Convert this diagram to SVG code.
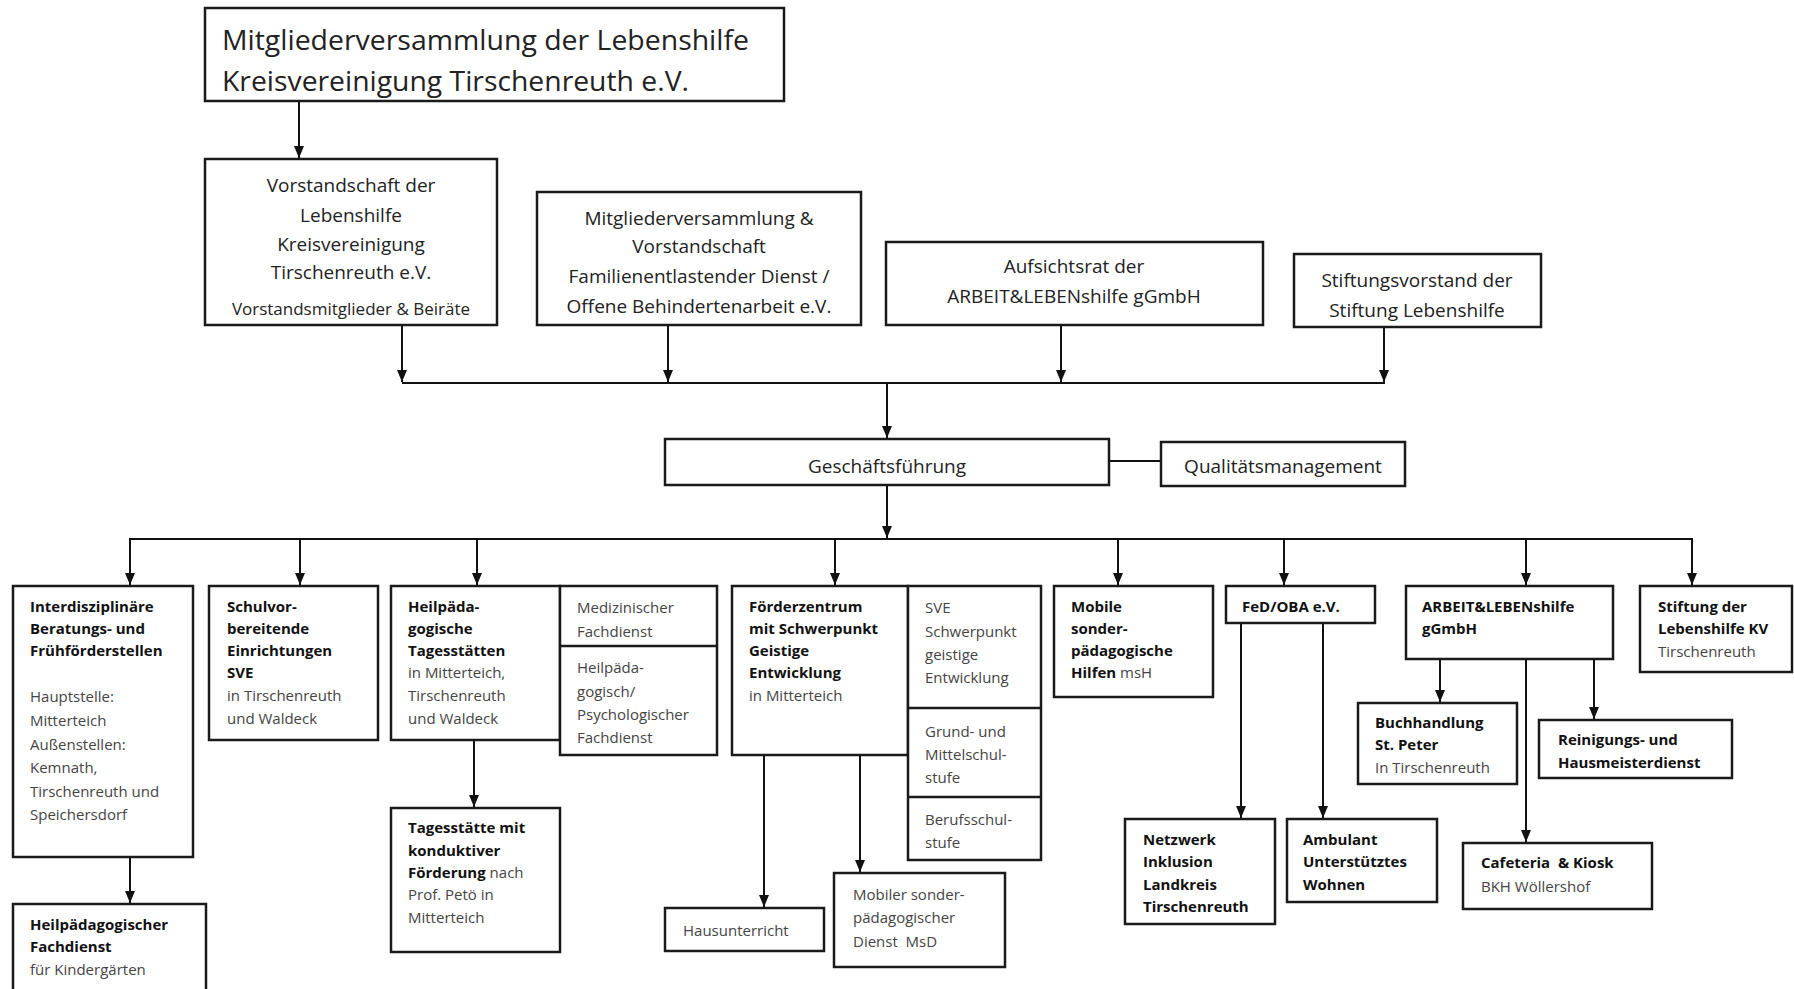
<svg xmlns="http://www.w3.org/2000/svg" width="1794" height="989" viewBox="0 0 1794 989">
<style>
.box{fill:#fff;stroke:#1a1a1a;stroke-width:2.5}
.conn{stroke:#111;stroke-width:2;fill:none}
.t{font-family:'Open Sans','Noto Sans','DejaVu Sans',sans-serif;fill:#222}
.u{font-size:19px}
.s{font-size:15px}
.b{font-weight:bold;fill:#111}
.r{fill:#444}
.c{text-anchor:middle}
</style>
<defs>
<marker id="ah" viewBox="0 0 12 10" refX="12" refY="5" markerWidth="12" markerHeight="10" markerUnits="userSpaceOnUse" orient="auto">
<path d="M0,0 L12,5 L0,10 z" fill="#111"/>
</marker>
</defs>
<rect width="1794" height="989" fill="#fff"/>

<g id="connectors" class="conn">
<path d="M299,101 V158" marker-end="url(#ah)"/>
<path d="M402,325 V382" marker-end="url(#ah)"/>
<path d="M668,325 V382" marker-end="url(#ah)"/>
<path d="M1061,325 V382" marker-end="url(#ah)"/>
<path d="M1384,327 V382" marker-end="url(#ah)"/>
<path d="M402,383 H1385"/>
<path d="M887,383 V438" marker-end="url(#ah)"/>
<path d="M1109,461 H1161"/>
<path d="M887,486 V538" marker-end="url(#ah)"/>
<path d="M129,539 H1693"/>
<path d="M130,539 V585" marker-end="url(#ah)"/>
<path d="M300,539 V585" marker-end="url(#ah)"/>
<path d="M477,539 V585" marker-end="url(#ah)"/>
<path d="M835,539 V585" marker-end="url(#ah)"/>
<path d="M1118,539 V585" marker-end="url(#ah)"/>
<path d="M1284,539 V585" marker-end="url(#ah)"/>
<path d="M1526,539 V585" marker-end="url(#ah)"/>
<path d="M1692,539 V585" marker-end="url(#ah)"/>
<path d="M130,857 V903" marker-end="url(#ah)"/>
<path d="M474,740 V807" marker-end="url(#ah)"/>
<path d="M764,755 V907" marker-end="url(#ah)"/>
<path d="M860,755 V872" marker-end="url(#ah)"/>
<path d="M1241,623 V818" marker-end="url(#ah)"/>
<path d="M1323,623 V818" marker-end="url(#ah)"/>
<path d="M1440,659 V702" marker-end="url(#ah)"/>
<path d="M1526,659 V842" marker-end="url(#ah)"/>
<path d="M1594,659 V719" marker-end="url(#ah)"/>
</g>

<g id="mv">
<rect class="box" x="205" y="8" width="579" height="93"/>
<text class="t" x="222" y="50" font-size="27" textLength="527" lengthAdjust="spacingAndGlyphs">Mitgliederversammlung der Lebenshilfe</text>
<text class="t" x="222" y="91" font-size="27" textLength="467" lengthAdjust="spacingAndGlyphs">Kreisvereinigung Tirschenreuth e.V.</text>
</g>

<g id="vorstand">
<rect class="box" x="205" y="159" width="292" height="166"/>
<text class="t u c" x="351" y="192">Vorstandschaft der</text>
<text class="t u c" x="351" y="222">Lebenshilfe</text>
<text class="t u c" x="351" y="251">Kreisvereinigung</text>
<text class="t u c" x="351" y="279">Tirschenreuth e.V.</text>
<text class="t c" x="351" y="315" font-size="17">Vorstandsmitglieder &amp; Beiräte</text>
</g>

<g id="fed-vorstand">
<rect class="box" x="537" y="192" width="324" height="133"/>
<text class="t u c" x="699" y="225">Mitgliederversammlung &amp;</text>
<text class="t u c" x="699" y="253">Vorstandschaft</text>
<text class="t u c" x="699" y="283">Familienentlastender Dienst /</text>
<text class="t u c" x="699" y="313">Offene Behindertenarbeit e.V.</text>
</g>

<g id="aufsichtsrat">
<rect class="box" x="886" y="242" width="377" height="83"/>
<text class="t u c" x="1074" y="273">Aufsichtsrat der</text>
<text class="t u c" x="1074" y="303">ARBEIT&amp;LEBENshilfe gGmbH</text>
</g>

<g id="stiftungsvorstand">
<rect class="box" x="1294" y="254" width="247" height="73"/>
<text class="t u c" x="1417" y="287">Stiftungsvorstand der</text>
<text class="t u c" x="1417" y="317">Stiftung Lebenshilfe</text>
</g>

<g id="gf">
<rect class="box" x="665" y="439" width="444" height="46"/>
<text class="t u c" x="887" y="473">Geschäftsführung</text>
</g>

<g id="qm">
<rect class="box" x="1161" y="442" width="244" height="44"/>
<text class="t u c" x="1283" y="473">Qualitätsmanagement</text>
</g>

<g id="interdisziplinaer">
<rect class="box" x="13" y="586" width="180" height="271"/>
<text class="t s b" x="30" y="612">Interdisziplinäre</text>
<text class="t s b" x="30" y="634">Beratungs- und</text>
<text class="t s b" x="30" y="656">Frühförderstellen</text>
<text class="t s r" x="30" y="702">Hauptstelle:</text>
<text class="t s r" x="30" y="726">Mitterteich</text>
<text class="t s r" x="30" y="750">Außenstellen:</text>
<text class="t s r" x="30" y="773">Kemnath,</text>
<text class="t s r" x="30" y="797">Tirschenreuth und</text>
<text class="t s r" x="30" y="820">Speichersdorf</text>
</g>

<g id="hp-fachdienst">
<rect class="box" x="13" y="904" width="193" height="100"/>
<text class="t s b" x="30" y="930">Heilpädagogischer</text>
<text class="t s b" x="30" y="952">Fachdienst</text>
<text class="t s r" x="30" y="975">für Kindergärten</text>
</g>

<g id="schulvor">
<rect class="box" x="209" y="586" width="169" height="154"/>
<text class="t s b" x="227" y="612">Schulvor-</text>
<text class="t s b" x="227" y="634">bereitende</text>
<text class="t s b" x="227" y="656">Einrichtungen</text>
<text class="t s b" x="227" y="678">SVE</text>
<text class="t s r" x="227" y="701">in Tirschenreuth</text>
<text class="t s r" x="227" y="724">und Waldeck</text>
</g>

<g id="hpt">
<rect class="box" x="391" y="586" width="169" height="154"/>
<text class="t s b" x="408" y="612">Heilpäda-</text>
<text class="t s b" x="408" y="634">gogische</text>
<text class="t s b" x="408" y="656">Tagesstätten</text>
<text class="t s r" x="408" y="678">in Mitterteich,</text>
<text class="t s r" x="408" y="701">Tirschenreuth</text>
<text class="t s r" x="408" y="724">und Waldeck</text>
</g>

<g id="med">
<rect class="box" x="560" y="586" width="157" height="169"/>
<line x1="560" y1="646" x2="717" y2="646" stroke="#1a1a1a" stroke-width="2.5"/>
<text class="t s r" x="577" y="613">Medizinischer</text>
<text class="t s r" x="577" y="637">Fachdienst</text>
<text class="t s r" x="577" y="673">Heilpäda-</text>
<text class="t s r" x="577" y="697">gogisch/</text>
<text class="t s r" x="577" y="720">Psychologischer</text>
<text class="t s r" x="577" y="743">Fachdienst</text>
</g>

<g id="tagesstaette">
<rect class="box" x="391" y="808" width="169" height="144"/>
<text class="t s b" x="408" y="833">Tagesstätte mit</text>
<text class="t s b" x="408" y="856">konduktiver</text>
<text class="t s" x="408" y="878"><tspan class="b">Förderung</tspan><tspan class="r"> nach</tspan></text>
<text class="t s r" x="408" y="900">Prof. Petö in</text>
<text class="t s r" x="408" y="923">Mitterteich</text>
</g>

<g id="foerderzentrum">
<rect class="box" x="732" y="586" width="176" height="169"/>
<text class="t s b" x="749" y="612">Förderzentrum</text>
<text class="t s b" x="749" y="634">mit Schwerpunkt</text>
<text class="t s b" x="749" y="656">Geistige</text>
<text class="t s b" x="749" y="678">Entwicklung</text>
<text class="t s r" x="749" y="701">in Mitterteich</text>
</g>

<g id="sve">
<rect class="box" x="908" y="586" width="133" height="274"/>
<line x1="908" y1="708" x2="1041" y2="708" stroke="#1a1a1a" stroke-width="2.5"/>
<line x1="908" y1="797" x2="1041" y2="797" stroke="#1a1a1a" stroke-width="2.5"/>
<text class="t s r" x="925" y="613">SVE</text>
<text class="t s r" x="925" y="637">Schwerpunkt</text>
<text class="t s r" x="925" y="660">geistige</text>
<text class="t s r" x="925" y="683">Entwicklung</text>
<text class="t s r" x="925" y="737">Grund- und</text>
<text class="t s r" x="925" y="760">Mittelschul-</text>
<text class="t s r" x="925" y="783">stufe</text>
<text class="t s r" x="925" y="825">Berufsschul-</text>
<text class="t s r" x="925" y="848">stufe</text>
</g>

<g id="hausunterricht">
<rect class="box" x="665" y="908" width="159" height="43"/>
<text class="t s r" x="683" y="936">Hausunterricht</text>
</g>

<g id="msd">
<rect class="box" x="834" y="873" width="171" height="94"/>
<text class="t s r" x="853" y="900">Mobiler sonder-</text>
<text class="t s r" x="853" y="923">pädagogischer</text>
<text class="t s r" x="853" y="947" xml:space="preserve">Dienst  MsD</text>
</g>

<g id="msh">
<rect class="box" x="1054" y="586" width="159" height="111"/>
<text class="t s b" x="1071" y="612">Mobile</text>
<text class="t s b" x="1071" y="634">sonder-</text>
<text class="t s b" x="1071" y="656">pädagogische</text>
<text class="t s" x="1071" y="678"><tspan class="b">Hilfen</tspan><tspan class="r"> msH</tspan></text>
</g>

<g id="fedoba">
<rect class="box" x="1226" y="586" width="149" height="37"/>
<text class="t s b" x="1242" y="612">FeD/OBA e.V.</text>
</g>

<g id="netzwerk">
<rect class="box" x="1125" y="819" width="150" height="105"/>
<text class="t s b" x="1143" y="845">Netzwerk</text>
<text class="t s b" x="1143" y="867">Inklusion</text>
<text class="t s b" x="1143" y="890">Landkreis</text>
<text class="t s b" x="1143" y="912">Tirschenreuth</text>
</g>

<g id="ambulant">
<rect class="box" x="1287" y="819" width="150" height="83"/>
<text class="t s b" x="1303" y="845">Ambulant</text>
<text class="t s b" x="1303" y="867">Unterstütztes</text>
<text class="t s b" x="1303" y="890">Wohnen</text>
</g>

<g id="arbeit">
<rect class="box" x="1406" y="586" width="207" height="73"/>
<text class="t s b" x="1422" y="612">ARBEIT&amp;LEBENshilfe</text>
<text class="t s b" x="1422" y="634">gGmbH</text>
</g>

<g id="buchhandlung">
<rect class="box" x="1358" y="703" width="159" height="81"/>
<text class="t s b" x="1375" y="728">Buchhandlung</text>
<text class="t s b" x="1375" y="750">St. Peter</text>
<text class="t s r" x="1375" y="773">In Tirschenreuth</text>
</g>

<g id="reinigung">
<rect class="box" x="1539" y="720" width="193" height="58"/>
<text class="t s b" x="1558" y="745">Reinigungs- und</text>
<text class="t s b" x="1558" y="768">Hausmeisterdienst</text>
</g>

<g id="cafeteria">
<rect class="box" x="1463" y="843" width="189" height="66"/>
<text class="t s b" x="1481" y="868" xml:space="preserve">Cafeteria  &amp; Kiosk</text>
<text class="t s r" x="1481" y="892">BKH Wöllershof</text>
</g>

<g id="stiftung">
<rect class="box" x="1640" y="586" width="152" height="86"/>
<text class="t s b" x="1658" y="612">Stiftung der</text>
<text class="t s b" x="1658" y="634">Lebenshilfe KV</text>
<text class="t s r" x="1658" y="657">Tirschenreuth</text>
</g>
</svg>
